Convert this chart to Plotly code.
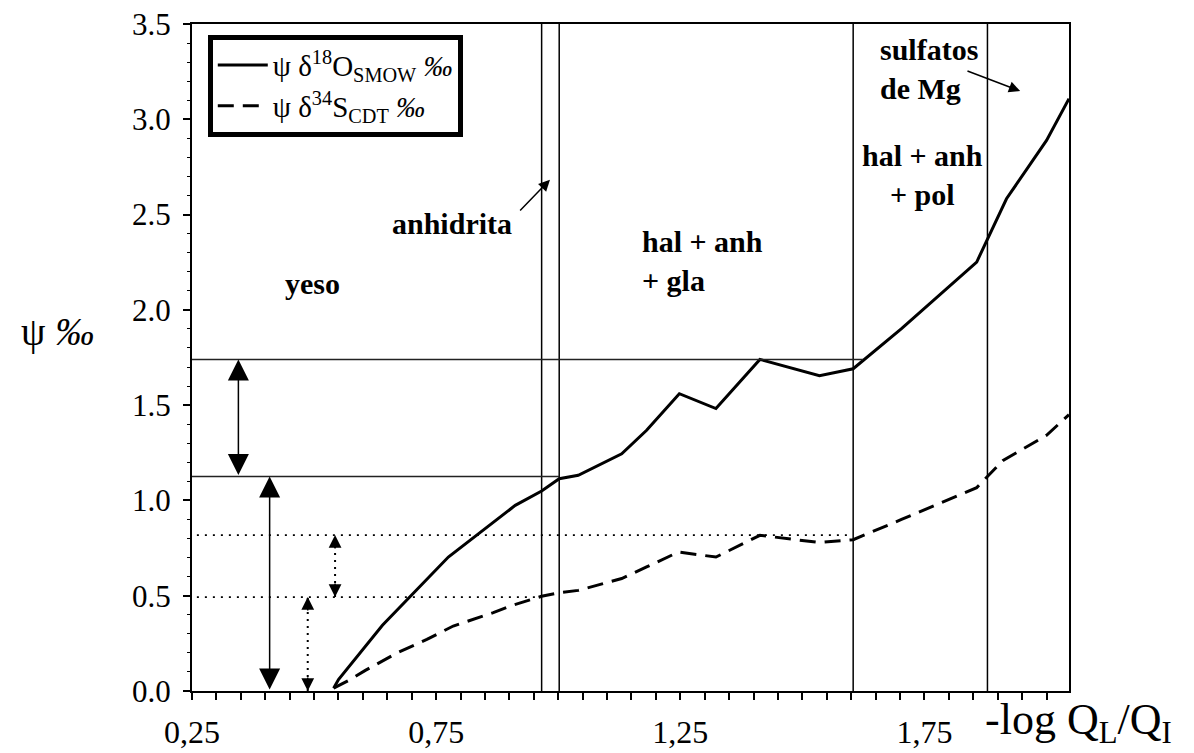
import plotly.graph_objects as go

# ---- data ----
x_o18 = [0.54, 0.55, 0.64, 0.775, 0.912, 0.966, 1.002, 1.041, 1.130, 1.181, 1.248, 1.323,
         1.413, 1.535, 1.604, 1.703, 1.857, 1.918, 2.0, 2.046]
y_o18 = [0.015, 0.06, 0.345, 0.703, 0.974, 1.049, 1.114, 1.132, 1.245, 1.368, 1.560, 1.482,
         1.740, 1.655, 1.691, 1.901, 2.251, 2.583, 2.889, 3.108]

x_s34 = [0.54, 0.574, 0.605, 0.670, 0.731, 0.785, 0.867, 0.902, 0.966, 1.002, 1.041, 1.130,
         1.181, 1.246, 1.323, 1.413, 1.535, 1.604, 1.703, 1.857, 1.911, 2.0, 2.046]
y_s34 = [0.015, 0.06, 0.108, 0.2, 0.271, 0.341, 0.411, 0.446, 0.497, 0.516, 0.528, 0.59,
         0.651, 0.729, 0.703, 0.817, 0.779, 0.794, 0.90, 1.067, 1.21, 1.342, 1.45]

name_o18 = "ψ δ<sup>18</sup>O<sub>SMOW</sub> <i>‰</i>"
name_s34 = "ψ δ<sup>34</sup>S<sub>CDT</sub> <i>‰</i>"

# phase boundaries (vertical lines)
vlines_x = [0.966, 1.002, 1.604, 1.879]
# solid horizontal reference lines: level, end x
hsolid_y = [1.739, 1.126]
hsolid_xend = [1.624, 1.002]
# dotted horizontal reference lines
hdot_y = [0.818, 0.493]
hdot_xend = [1.597, 0.963]
x_start_dot = 0.26

# double arrows: x, y_top, y_bottom
solid_arrows = [(0.345, 1.739, 1.126), (0.409, 1.126, 0.0)]
dotted_arrows = [(0.543, 0.818, 0.493), (0.487, 0.493, 0.0)]

# text labels
labels = [
    ("yeso", 0.496, 2.14, "center", "center"),
    ("anhidrita", 0.783, 2.455, "center", "center"),
    ("hal + anh<br>+ gla", 1.168, 2.255, "left", "left"),
    ("hal + anh<br>+ pol", 1.745, 2.71, "center", "center"),
    ("sulfatos<br>de Mg", 1.655, 3.265, "left", "left"),
]
# label pointer arrows: head (x,y), tail (x,y)
pointers = [((0.983, 2.683), (0.919, 2.513)), ((1.946, 3.148), (1.835, 3.256))]

x_range = [0.25, 2.046]
y_range = [0, 3.5]
x_tickvals = [0.25, 0.75, 1.25, 1.75]
x_ticktext = ["0,25", "0,75", "1,25", "1,75"]
y_tickvals = [0, 0.5, 1.0, 1.5, 2.0, 2.5, 3.0, 3.5]

FONT = "Liberation Serif, Times New Roman, serif"

fig = go.Figure()
fig.add_trace(go.Scatter(x=x_o18, y=y_o18, mode="lines", name=name_o18,
                         line=dict(color="black", width=3)))
fig.add_trace(go.Scatter(x=x_s34, y=y_s34, mode="lines", name=name_s34,
                         line=dict(color="black", width=3, dash="16px,9px")))

shapes = []
for xv in vlines_x:
    shapes.append(dict(type="line", xref="x", yref="y", x0=xv, x1=xv, y0=y_range[0], y1=y_range[1],
                       line=dict(color="black", width=1.5)))
for yv, xe in zip(hsolid_y, hsolid_xend):
    shapes.append(dict(type="line", xref="x", yref="y", x0=x_range[0], x1=xe, y0=yv, y1=yv,
                       line=dict(color="#222222", width=1.5)))
for yv, xe in zip(hdot_y, hdot_xend):
    shapes.append(dict(type="line", xref="x", yref="y", x0=x_start_dot, x1=xe, y0=yv, y1=yv,
                       line=dict(color="black", width=1.8, dash="2px,6px")))
for xv, yt, yb in dotted_arrows:
    shapes.append(dict(type="line", xref="x", yref="y", x0=xv, x1=xv, y0=yb, y1=yt,
                       line=dict(color="black", width=2, dash="2px,5px")))

annotations = []
for xv, yt, yb in solid_arrows:
    annotations.append(dict(x=xv, y=yt, ax=xv, ay=yb, xref="x", yref="y", axref="x", ayref="y",
                            text="", showarrow=True, arrowside="end+start",
                            arrowhead=2, startarrowhead=2, arrowsize=2.8, startarrowsize=2.8,
                            arrowwidth=1.5, arrowcolor="black", standoff=0, startstandoff=0))
for xv, yt, yb in dotted_arrows:
    annotations.append(dict(x=xv, y=yt, ax=0, ay=15, xref="x", yref="y", text="", showarrow=True,
                            arrowhead=2, arrowsize=1.7, arrowwidth=1.5, arrowcolor="black", standoff=0))
    annotations.append(dict(x=xv, y=yb, ax=0, ay=-15, xref="x", yref="y", text="", showarrow=True,
                            arrowhead=2, arrowsize=1.7, arrowwidth=1.5, arrowcolor="black", standoff=0))
for txt, xv, yv, xanchor, align in labels:
    annotations.append(dict(x=xv, y=yv, xref="x", yref="y", text=txt, showarrow=False,
                            xanchor=xanchor, yanchor="middle", align=align,
                            font=dict(family=FONT, size=30, color="black", weight="bold")))
for (hx, hy), (tx, ty) in pointers:
    annotations.append(dict(x=hx, y=hy, ax=tx, ay=ty, xref="x", yref="y", axref="x", ayref="y",
                            text="", showarrow=True, arrowhead=2, arrowsize=1.5, arrowwidth=1.5,
                            arrowcolor="black", standoff=0))
# axis titles
annotations.append(dict(x=-0.153, y=0.538, xref="paper", yref="paper", text="ψ <i>‰</i>",
                        showarrow=False, xanchor="center", yanchor="middle",
                        font=dict(family=FONT, size=39, color="black")))
annotations.append(dict(x=0.902, y=-0.091, xref="paper", yref="paper",
                        text="-log Q<sub>L</sub>/Q<sub>I</sub>",
                        showarrow=False, xanchor="left", yanchor="bottom",
                        font=dict(family=FONT, size=44, color="black")))

fig.update_layout(
    width=1194, height=753,
    margin=dict(l=192, r=125, t=24, b=62, autoexpand=False),
    paper_bgcolor="white", plot_bgcolor="white",
    shapes=shapes, annotations=annotations,
    showlegend=True,
    legend=dict(x=0.018, y=0.984, xanchor="left", yanchor="top",
                bgcolor="white", bordercolor="black", borderwidth=5,
                font=dict(family=FONT, size=29, color="black"),
                itemwidth=50, tracegroupgap=0),
    xaxis=dict(range=x_range, tickvals=x_tickvals, ticktext=x_ticktext, automargin=False,
               ticks="outside", ticklen=7, tickwidth=1.5, tickcolor="black",
               minor=dict(ticks="outside", ticklen=7, dtick=0.05, tick0=0.25, tickwidth=1.5,
                          tickcolor="black", showgrid=False),
               showline=True, linewidth=2, linecolor="black", mirror=True,
               showgrid=False, zeroline=False, ticklabelstandoff=5,
               tickfont=dict(family=FONT, size=32, color="black")),
    yaxis=dict(range=y_range, tickvals=y_tickvals, tickformat=".1f", automargin=False,
               ticks="outside", ticklen=7, tickwidth=1.5, tickcolor="black",
               minor=dict(ticks="outside", ticklen=3, dtick=0.1, tickwidth=1.2,
                          tickcolor="black", showgrid=False),
               showline=True, linewidth=2, linecolor="black", mirror=True,
               showgrid=False, zeroline=False, ticklabelstandoff=6,
               tickfont=dict(family=FONT, size=31, color="black")),
)

fig.write_html("out.html")
